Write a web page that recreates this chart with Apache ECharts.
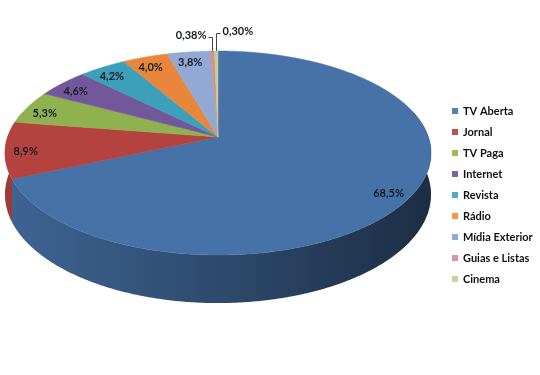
<!DOCTYPE html>
<html><head><meta charset="utf-8">
<script src="https://cdn.jsdelivr.net/npm/echarts@6/dist/echarts.min.js"></script>
<style>html,body{margin:0;padding:0;background:#fff}#c{width:540px;height:375px}</style>
</head><body><div id="c"></div>
<script>
// ---- data ----
const categories = ['TV Aberta','Jornal','TV Paga','Internet','Revista','Rádio','Mídia Exterior','Guias e Listas','Cinema'];
const values = [68.5, 8.9, 5.3, 4.6, 4.2, 4.0, 3.8, 0.38, 0.30];
const labelTexts = ['68,5%','8,9%','5,3%','4,6%','4,2%','4,0%','3,8%','0,38%','0,30%'];

// ---- styles ----
const legendColors = ['#4F81BD','#C0504D','#9BBB59','#8064A2','#4BACC6','#F79646','#95AAD6','#D9969A','#C3D69B'];
const topColors    = ['#4672A8','#B4433F','#8FB14F','#72589A','#3DA0BA','#E8873C','#91A9D4','#D4918F','#BDD199'];
const FAMILY = 'Lato, "Liberation Sans", Arial, sans-serif';
const FONT = 'bold 11px ' + FAMILY;

const total = values.reduce((a, b) => a + b, 0);
const starts = [];
{ let acc = 0; values.forEach(v => { starts.push(acc); acc += v; }); }

// projection of the tilted disc
const G = { cx: 218, cy: 137, A: 210.4, B: 99.5, t: 0.157, h: 40.5 };
function proj(f, deg, down) {
  const r = deg * Math.PI / 180;
  const X = f * Math.cos(r), Z = f * Math.sin(r);
  const w = 1 - G.t * Z;
  return [G.cx + G.A * X / w, G.cy + (G.B * Z + (down || 0)) / w];
}
function arc(a, b, down) {
  const pts = [];
  const n = Math.max(2, Math.ceil(Math.abs(b - a) / 0.5));
  for (let k = 0; k <= n; k++) pts.push(proj(1, a + (b - a) * k / n, down));
  return pts;
}
function shade(hex, k) {
  const n = parseInt(hex.slice(1), 16);
  const r = Math.round(((n >> 16) & 255) * k), g = Math.round(((n >> 8) & 255) * k), b = Math.round((n & 255) * k);
  return 'rgb(' + r + ',' + g + ',' + b + ')';
}
const smallIdx = values.map((v, i) => v < 1 ? i : -1).filter(i => i >= 0);

function makeRender(i) {
  return function (params, api) {
    const v = api.value(0);
    const a = -90 + starts[i] / total * 360;
    const b = a + v / total * 360;
    const children = [];
    const wa = Math.max(a, -15), wb = Math.min(b, 195);
    if (wb > wa) {
      const top = arc(wa, wb, 0), bot = arc(wa, wb, G.h).reverse();
      children.push({
        type: 'polygon', z2: 1, silent: true,
        shape: { points: top.concat(bot) },
        style: {
          fill: { type: 'linear', x: G.cx - G.A, y: 0, x2: G.cx + G.A, y2: 0, global: true,
            colorStops: [{ offset: 0, color: shade(topColors[i], 0.88) }, { offset: 0.5, color: shade(topColors[i], 0.65) }, { offset: 1, color: shade(topColors[i], 0.4) }] },
          stroke: null
        }
      });
    }
    children.push({
      type: 'polygon', z2: 5, silent: true,
      shape: { points: [[G.cx, G.cy]].concat(arc(a, b, 0)) },
      style: { fill: topColors[i], stroke: topColors[i], lineWidth: 0.5 }
    });
    const mid = (a + b) / 2;
    if (v >= 1) {
      const p = proj(0.9, mid, 0);
      children.push({
        type: 'text', z2: 10, silent: true,
        style: { text: labelTexts[i], x: p[0] - 1, y: p[1] + 3, font: FONT, fill: '#151a22',
          align: 'center', verticalAlign: 'middle', textAlign: 'center', textVerticalAlign: 'middle' }
      });
    } else {
      const k = smallIdx.indexOf(i);
      const dir = k === 0 ? -1 : 1;
      const e = proj(1, mid, 0);
      const ex = Math.round(e[0]) + 0.5;
      const ey = Math.round(e[1] - 14 - 4 * k) + 0.5;
      const hx = ex + dir * 4;
      children.push({
        type: 'polyline', z2: 9, silent: true,
        shape: { points: [[ex, e[1]], [ex, ey], [hx, ey]] },
        style: { stroke: '#444', lineWidth: 1, fill: null }
      });
      children.push({
        type: 'text', z2: 10, silent: true,
        style: { text: labelTexts[i], x: hx + dir * 2, y: ey - 2, font: FONT, fill: '#151a22',
          align: dir < 0 ? 'right' : 'left', verticalAlign: 'middle',
          textAlign: dir < 0 ? 'right' : 'left', textVerticalAlign: 'middle' }
      });
    }
    return { type: 'group', children: children };
  };
}

const series = categories.map((name, i) => ({
  type: 'custom', name: name, coordinateSystem: 'none',
  itemStyle: { color: legendColors[i] },
  data: [[values[i]]],
  renderItem: makeRender(i),
  silent: true
}));

const chart = echarts.init(document.getElementById('c'), null, { renderer: 'canvas' });
chart.setOption({
  animation: false,
  backgroundColor: '#fff',
  legend: {
    orient: 'vertical', left: 452, top: 105, padding: 0,
    icon: 'rect', itemWidth: 6, itemHeight: 6, itemGap: 9,
    textStyle: { fontFamily: FAMILY, fontWeight: 'bold', fontSize: 11, color: '#111', lineHeight: 12 },
    data: categories,
    selectedMode: false
  },
  series: series
});
</script>
</body></html>
